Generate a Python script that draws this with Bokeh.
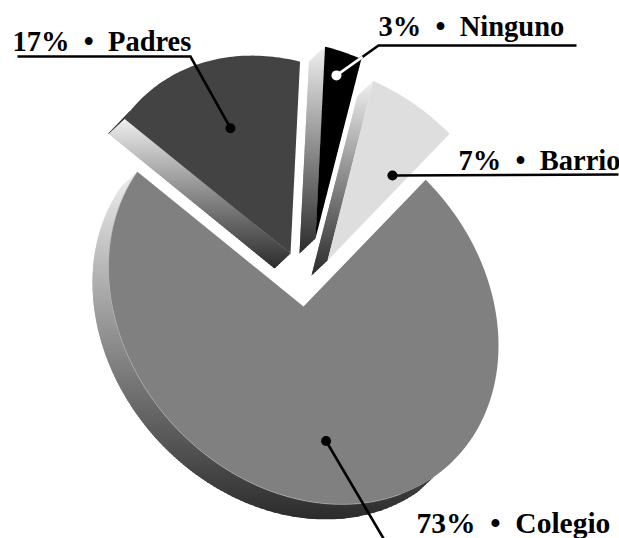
import math
from bokeh.plotting import figure
from bokeh.models import Range1d, ColumnDataSource
from bokeh.core.properties import value
from bokeh.embed import file_html
from bokeh.resources import INLINE

# data
names = ["Colegio", "Padres", "Ninguno", "Barrio"]
shares = [73, 17, 3, 7]

# styles / layout
face_colors = ["#808080", "#434343", "#000000", "#dedede"]
apexes = [(303, 306), (290, 253), (315, 238), (327, 260)]
EXTRUDE = (-16, 15)
SXX, SXY, SYY = 195.0, 39.0, 194.0
START = -51.2
dot_pos = [(0.68, 0), (0.66, 0), (0.869, -1.1), (0.605, 7.2)]
dot_colors = ["black", "black", "white", "black"]
label_pos = [(416, 522), (12, 41), (378, 26), (458, 160)]
label_sizes = ["29.5px", "28.5px", "28.5px", "28.5px"]
leaders = [[(383, 538)], [(190, 56), (17, 56)], [(378, 45), (576, 45)], [(618, 174)]]
FONT = "Liberation Serif"

p = figure(width=619, height=538, x_range=Range1d(0, 619), y_range=Range1d(538, 0),
           output_backend="svg", toolbar_location=None, min_border=0)
p.axis.visible = False
p.grid.visible = False
p.outline_line_color = None


def pt(apex, ang, r=1.0):
    c, s = r * math.cos(math.radians(ang)), r * math.sin(math.radians(ang))
    return (apex[0] + SXX * c, apex[1] + SXY * c + SYY * s)


def arc(apex, a0, a1, step=1.0):
    n = max(2, int(abs(a1 - a0) / step))
    return [pt(apex, a0 + (a1 - a0) * i / n) for i in range(n + 1)]


def clip_y(poly, y0, y1):
    def half(pts, keep, cross):
        out = []
        for i, q in enumerate(pts):
            r = pts[(i + 1) % len(pts)]
            if keep(q):
                out.append(q)
            if keep(q) != keep(r):
                t = (cross - q[1]) / (r[1] - q[1])
                out.append((q[0] + t * (r[0] - q[0]), cross))
        return out
    res = half(poly, lambda q: q[1] >= y0, y0)
    if res:
        res = half(res, lambda q: q[1] <= y1, y1)
    return res


STOPS = [(0.0, 238), (0.5, 138), (1.0, 43)]


def grey(t):
    t = max(0, min(1, t))
    for (a, va), (b, vb) in zip(STOPS, STOPS[1:]):
        if t <= b:
            g = int(round(va + (vb - va) * (t - a) / (b - a)))
            return "#%02x%02x%02x" % (g, g, g)
    return "#2b2b2b"


def shift(q):
    return (q[0] + EXTRUDE[0], q[1] + EXTRUDE[1])


# slice angles from the shares
angles = []
a = START
for v in shares:
    angles.append((a, a + v * 3.6))
    a += v * 3.6

# sides (vertical gradient as thin overlapping bands, painted top to bottom upward)
bx, by, bc = [], [], []
BAND = 2
OVERLAP = 1.5
for i, (a0, a1) in enumerate(angles):
    ap = apexes[i]
    if i == 0:
        outer = arc(ap, 48, a1)
        side = outer + [shift(q) for q in reversed(outer)]
    else:
        corner = pt(ap, a0)
        side = [ap, corner, shift(corner), shift(ap)]
    ys = [q[1] for q in side]
    top, bot = min(ys), max(ys)
    y = math.floor(top)
    while y < bot:
        c = clip_y(side, y, y + BAND + OVERLAP)
        if len(c) >= 3:
            bx.append([q[0] for q in c])
            by.append([q[1] for q in c])
            bc.append(grey((y - top) / (bot - top)))
        y += BAND
p.patches("x", "y", source=ColumnDataSource(dict(x=bx, y=by, c=bc)),
          fill_color="c", line_color=None)

# small dark sliver on the Padres rim
ap = apexes[1]
a0 = angles[1][0]
sl = [pt(ap, a0), shift(pt(ap, a0))] + [pt(ap, a0 + 3.0)]
p.patch([q[0] for q in sl], [q[1] for q in sl], fill_color="#111111", line_color="#111111", line_width=0.5)

# faces
fx, fy = [], []
for i, (a0, a1) in enumerate(angles):
    poly = [apexes[i]] + arc(apexes[i], a0, a1)
    fx.append([q[0] for q in poly])
    fy.append([q[1] for q in poly])
p.patches("x", "y", source=ColumnDataSource(dict(x=fx, y=fy, c=face_colors)),
          fill_color="c", line_color=None)

# hairline between the face and the side of the big slice
hl = arc(apexes[0], 60, angles[0][1])
p.line([q[0] for q in hl], [q[1] for q in hl], line_color="#b8b8b8", line_width=0.6)

# leaders and dots
dx, dy = [], []
for i, (a0, a1) in enumerate(angles):
    r, d = dot_pos[i]
    q = pt(apexes[i], (a0 + a1) / 2 + d, r)
    dx.append(q[0])
    dy.append(q[1])
    path = [q] + leaders[i]
    p.line([u[0] for u in path], [u[1] for u in path], line_color="black", line_width=2.6,
           line_join="miter")
# white part of the Ninguno leader over the black face
q = (dx[2], dy[2])
e = leaders[2][0]
t = 0.62
p.line([q[0], q[0] + t * (e[0] - q[0])], [q[1], q[1] + t * (e[1] - q[1])],
       line_color="white", line_width=2.6)
p.scatter(dx, dy, size=10, marker="circle", fill_color=dot_colors, line_color=None)

# labels
texts = ["%d%%\u2002\u2022\u2002%s" % (v, n) for v, n in zip(shares, names)]
src = ColumnDataSource(dict(x=[u[0] for u in label_pos], y=[u[1] for u in label_pos],
                            t=texts, s=label_sizes))
p.text("x", "y", text="t", source=src,
       text_font=value(FONT), text_font_style="bold", text_font_size="s",
       text_color="black", text_align="left", text_baseline="alphabetic")

open("out.html", "w").write(file_html(p, INLINE))
